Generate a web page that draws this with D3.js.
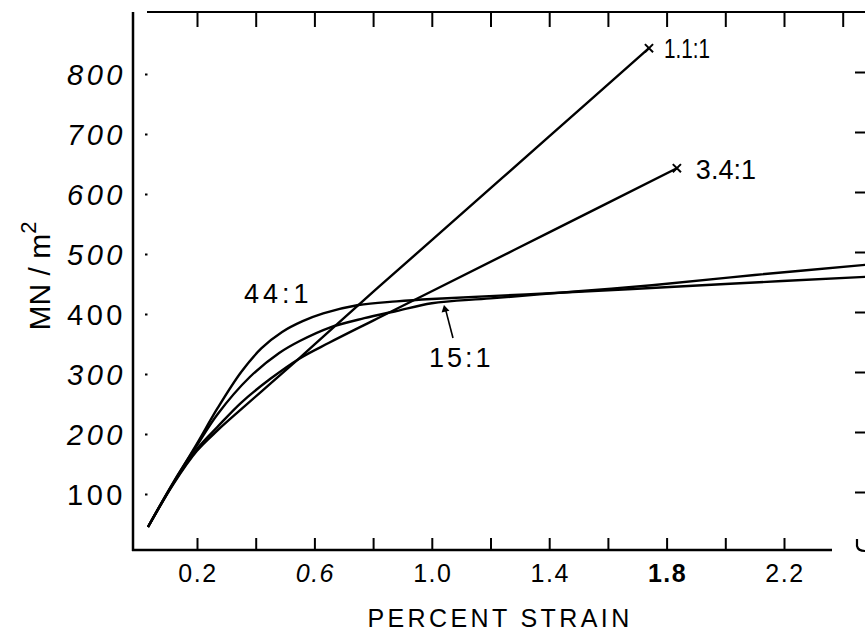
<!DOCTYPE html>
<html>
<head>
<meta charset="utf-8">
<script src="https://cdn.jsdelivr.net/npm/d3@7"></script>
<style>
  body { margin: 0; background: #fff; }
  svg { display: block; }
  text { font-family: "Liberation Sans", Arial, sans-serif; fill: #000; }
</style>
</head>
<body>
<svg id="chart" width="865" height="632"></svg>
<script>
// Stress–strain curves for four aspect ratios (strain in %, stress in MN/m^2)
const curve44 = [[0.033,45],[0.12,119],[0.2,184],[0.27,243],[0.35,303],[0.42,343],[0.49,370],[0.56,388],[0.63,401],[0.75,415],[0.88,421],[1.0,425],[1.5,437],[2.0,450],[2.48,462]];
const curve15 = [[0.033,45],[0.12,120],[0.2,181],[0.27,233],[0.38,295],[0.48,335],[0.55,355],[0.65,377],[0.77,393],[0.88,405],[1.0,418],[1.2,426],[1.5,438],[1.75,448],[2.1,465],[2.48,482]];
const curve34 = [[0.033,45],[0.12,118],[0.2,175],[0.27,212],[0.35,252],[0.45,292],[0.55,326],[0.65,352],[0.8,389],[1.0,438],[1.4,536],[1.835,643]];
const curve11 = [[0.033,45],[0.12,117],[0.2,172],[0.27,206],[0.35,241],[0.45,284],[0.55,327],[0.65,371],[0.8,437],[1.0,523],[1.4,696],[1.74,843]];

const seriesNames = ["44:1", "15:1", "3.4:1", "1.1:1"];

// Axis ticks and labels
const xMinorTicks = [0.2,0.4,0.6,0.8,1.0,1.2,1.4,1.6,1.8,2.0,2.2];
const xTopTicks = [0.2,0.4,0.6,0.8,1.0,1.2,1.4,1.6,1.8,2.0,2.2,2.4];
const xLabelValues = [0.2,0.6,1.0,1.4,1.8,2.2];
const xLabelTexts = ["0.2","0.6","1.0","1.4","1.8","2.2"];
const yLabelValues = [100,200,300,400,500,600,700,800];
const yLabelTexts = ["100","200","300","400","500","600","700","800"];

const svg = d3.select("#chart");

// Frame geometry
const frame = { left: 133, bottom: 550, top: 12, right: 832, topStart: 147 };

const x = d3.scaleLinear().domain([0, 2.4]).range([138.3, 842.7]);
const y = d3.scaleLinear().domain([0, 800]).range([554, 74]);

// Axis lines
svg.append("line").attr("x1", frame.left).attr("x2", frame.left)
  .attr("y1", frame.top).attr("y2", frame.bottom + 1)
  .attr("stroke", "#000").attr("stroke-width", 2.5);
svg.append("line").attr("x1", frame.left - 1).attr("x2", frame.right)
  .attr("y1", frame.bottom).attr("y2", frame.bottom)
  .attr("stroke", "#000").attr("stroke-width", 2.5);
svg.append("line").attr("x1", frame.topStart).attr("x2", 865)
  .attr("y1", frame.top).attr("y2", frame.top)
  .attr("stroke", "#000").attr("stroke-width", 2);

// Bottom ticks (pointing up into the plot)
const bottomAxis = svg.append("g")
  .attr("transform", `translate(0,${frame.bottom})`)
  .call(d3.axisBottom(x).tickValues(xMinorTicks).tickSizeInner(-12).tickSizeOuter(0).tickFormat(""));
bottomAxis.select(".domain").remove();
bottomAxis.selectAll(".tick line").attr("stroke", "#000").attr("stroke-width", 2);

// Top ticks (pointing down)
const topAxis = svg.append("g")
  .attr("transform", `translate(0,${frame.top})`)
  .call(d3.axisTop(x).tickValues(xTopTicks).tickSizeInner(-15).tickSizeOuter(0).tickFormat(""));
topAxis.select(".domain").remove();
topAxis.selectAll(".tick line").attr("stroke", "#000").attr("stroke-width", 2);

// Right-hand ticks
const rightAxis = svg.append("g")
  .attr("transform", "translate(855,-2)")
  .call(d3.axisRight(y).tickValues(yLabelValues).tickSizeInner(12).tickSizeOuter(0).tickFormat(""));
rightAxis.select(".domain").remove();
rightAxis.selectAll(".tick line").attr("stroke", "#000").attr("stroke-width", 2);
svg.append("path")
  .attr("d", "M857,539 L857,546 Q858,551 865,551")
  .attr("fill", "none").attr("stroke", "#000").attr("stroke-width", 2.2);

// Left tick dots
const leftAxis = svg.append("g")
  .attr("transform", "translate(145,0)")
  .call(d3.axisRight(y).tickValues(yLabelValues).tickSizeInner(2.5).tickSizeOuter(0).tickFormat(""));
leftAxis.select(".domain").remove();
leftAxis.selectAll(".tick line").attr("stroke", "#000").attr("stroke-width", 2);

// X tick labels
const xItalic = new Set(["0.6"]);
const xBold = new Set(["1.8"]);
svg.append("g").selectAll("text")
  .data(xLabelValues.map((v, i) => ({ v, t: xLabelTexts[i] })))
  .join("text")
  .attr("x", d => x(d.v) + 1)
  .attr("y", 582)
  .attr("text-anchor", "middle")
  .attr("font-size", 25)
  .attr("letter-spacing", 1.5)
  .attr("font-style", d => xItalic.has(d.t) ? "italic" : "normal")
  .attr("font-weight", d => xBold.has(d.t) ? "bold" : "normal")
  .text(d => d.t);

// Y tick labels
const yUpright = new Set(["100", "400"]);
svg.append("g").selectAll("text")
  .data(yLabelValues.map((v, i) => ({ v, t: yLabelTexts[i] })))
  .join("text")
  .attr("x", 126)
  .attr("y", d => y(d.v) + 11)
  .attr("text-anchor", "end")
  .attr("font-size", 29)
  .attr("letter-spacing", 3.5)
  .attr("font-style", d => yUpright.has(d.t) ? "normal" : "italic")
  .text(d => d.t);

// Axis titles
svg.append("text")
  .attr("x", 500).attr("y", 627)
  .attr("text-anchor", "middle")
  .attr("font-size", 25)
  .attr("letter-spacing", 3.4)
  .text("PERCENT STRAIN");

const yTitle = svg.append("text")
  .attr("transform", "translate(50,276) rotate(-90)")
  .attr("text-anchor", "middle")
  .attr("font-size", 30)
  .text("MN / m");
yTitle.append("tspan")
  .attr("font-size", 22)
  .attr("dy", -14)
  .text("2");

// Curves
const line = d3.line()
  .x(d => x(d[0]))
  .y(d => y(d[1]))
  .curve(d3.curveCatmullRom.alpha(0.5));

const allCurves = [curve44, curve15, curve34, curve11];
svg.append("g").selectAll("path")
  .data(allCurves)
  .join("path")
  .attr("d", line)
  .attr("fill", "none")
  .attr("stroke", "#000")
  .attr("stroke-width", 2.4)
  .attr("stroke-linejoin", "round");

// Fracture markers at the end of the two brittle curves
const ends = [curve11[curve11.length - 1], curve34[curve34.length - 1]];
svg.append("g").selectAll("path")
  .data(ends)
  .join("path")
  .attr("d", d3.symbol(d3.symbolTimes, 45))
  .attr("transform", d => `translate(${x(d[0])},${y(d[1])})`)
  .attr("fill", "none")
  .attr("stroke", "#000")
  .attr("stroke-width", 2);

// Curve labels
svg.append("text")
  .attr("x", x(curve11[curve11.length - 1][0]) + 15)
  .attr("y", y(curve11[curve11.length - 1][1]) + 10)
  .attr("font-size", 27)
  .attr("textLength", 46).attr("lengthAdjust", "spacingAndGlyphs")
  .text(seriesNames[3]);
svg.append("text")
  .attr("x", x(curve34[curve34.length - 1][0]) + 19)
  .attr("y", y(curve34[curve34.length - 1][1]) + 11)
  .attr("font-size", 27)
  .text(seriesNames[2]);
svg.append("text")
  .attr("x", 244).attr("y", 303)
  .attr("font-size", 27)
  .attr("letter-spacing", 4)
  .text(seriesNames[0]);
svg.append("text")
  .attr("x", 429).attr("y", 367)
  .attr("font-size", 27)
  .attr("letter-spacing", 3)
  .text(seriesNames[1]);

// Arrow from the 15:1 label to its curve
const arrowTip = [1.045, 416];
svg.append("line")
  .attr("x1", 453).attr("y1", 338)
  .attr("x2", x(arrowTip[0])).attr("y2", y(arrowTip[1]) + 3)
  .attr("stroke", "#000").attr("stroke-width", 1.6);
svg.append("path")
  .attr("d", d3.symbol(d3.symbolTriangle, 28))
  .attr("transform", `translate(${x(arrowTip[0])},${y(arrowTip[1]) + 5}) rotate(-13)`)
  .attr("fill", "#000");
</script>
</body>
</html>
